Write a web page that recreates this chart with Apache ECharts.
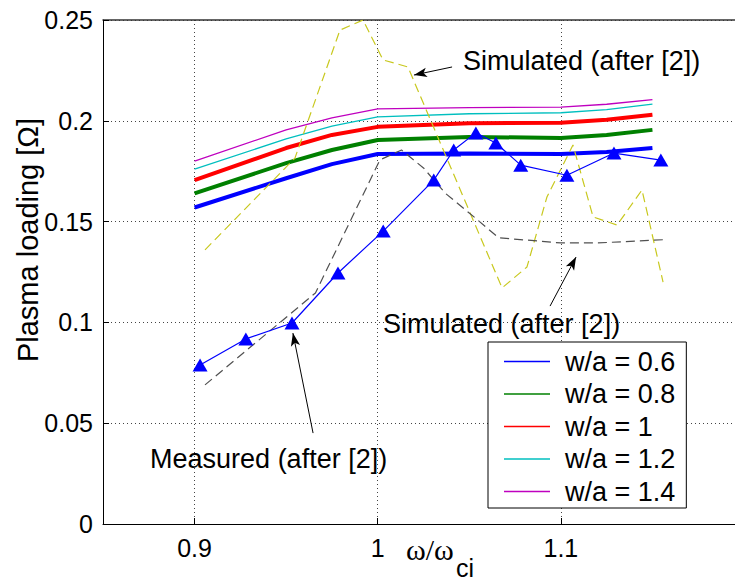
<!DOCTYPE html>
<html>
<head>
<meta charset="utf-8">
<script src="https://cdn.jsdelivr.net/npm/echarts@6/dist/echarts.min.js"></script>
<style>
html, body { margin: 0; padding: 0; background: #fff; }
#chart { width: 735px; height: 580px; }
</style>
</head>
<body>
<div id="chart"></div>
<script>
// w/a curves, all on the same frequency points
const waX = [0.9, 0.95, 0.975, 1.0, 1.05, 1.1, 1.125, 1.15];
const wa06 = [0.157, 0.1715, 0.1785, 0.1835, 0.1838, 0.1835, 0.1845, 0.1865];
const wa08 = [0.164, 0.179, 0.1855, 0.1905, 0.192, 0.1915, 0.193, 0.1955];
const wa10 = [0.1706, 0.1865, 0.193, 0.197, 0.1988, 0.199, 0.2005, 0.203];
const wa12 = [0.176, 0.191, 0.1974, 0.2019, 0.2035, 0.204, 0.2055, 0.2083];
const wa14 = [0.180, 0.1955, 0.2014, 0.2059, 0.2065, 0.2068, 0.2082, 0.2105];

// measured (triangles)
const measX = [0.903, 0.928, 0.9532, 0.9783, 1.003, 1.0306, 1.0415, 1.0536, 1.0645, 1.0781, 1.1033, 1.129, 1.1546];
const measY = [0.0789, 0.0918, 0.0997, 0.1245, 0.1453, 0.1706, 0.1855, 0.194, 0.189, 0.178, 0.173, 0.184, 0.1805];

// simulated, grey dashed
const simGX = [0.9057, 0.966, 1.0012, 1.013, 1.025, 1.037, 1.053, 1.066, 1.1, 1.12, 1.156];
const simGY = [0.069, 0.1146, 0.1806, 0.1855, 0.1766, 0.164, 0.152, 0.142, 0.1394, 0.1394, 0.141];

// simulated, yellow dashed
const simYX = [0.9057, 0.9548, 0.9794, 0.992, 1.0029, 1.0165, 1.0679, 1.0815, 1.0924, 1.1066, 1.1176, 1.1307, 1.1443, 1.1558];
const simYY = [0.136, 0.1815, 0.245, 0.25, 0.2302, 0.2267, 0.1171, 0.1275, 0.1622, 0.188, 0.1523, 0.1483, 0.1657, 0.12];

const xTicks = [0.9, 1, 1.1];
const legendNames = ['w/a = 0.6', 'w/a = 0.8', 'w/a = 1', 'w/a = 1.2', 'w/a = 1.4'];

// annotations: [text, text anchor (left, middle), arrow start, arrow tip]
const notes = [
  ['Simulated (after [2])', [1.0466, 0.2302], [1.0406, 0.2267], [1.0198, 0.2227]],
  ['Simulated (after [2])', [1.0029, 0.0997], [1.0941, 0.1081], [1.1083, 0.1324]],
  ['Measured (after [2])', [0.8757, 0.0327], [0.9647, 0.0451], [0.9537, 0.0947]]
];

const font = 'Liberation Sans, Arial, Helvetica, sans-serif';
const serif = 'Liberation Serif, Times New Roman, serif';
const zip = (xs, ys) => xs.map((x, i) => [x, ys[i]]);

const chart = echarts.init(document.getElementById('chart'), null, { renderer: 'svg' });

const waStyle = [
  ['#0000ff', 4], ['#008000', 4], ['#ff0000', 4], ['#00bfbf', 1.3], ['#bf00bf', 1.3]
];
const waData = [wa06, wa08, wa10, wa12, wa14];

const series = waData.map((ys, i) => ({
  name: legendNames[i],
  type: 'line',
  data: zip(waX, ys),
  showSymbol: false,
  symbol: 'none',
  lineStyle: { color: waStyle[i][0], width: waStyle[i][1] },
  itemStyle: { color: waStyle[i][0] },
  silent: true,
  z: 2
}));

series.push({
  name: 'simYellow',
  type: 'line',
  data: zip(simYX, simYY),
  symbol: 'none',
  lineStyle: { color: '#c8c81e', width: 1.2, type: [9, 5] },
  silent: true,
  z: 3
});
series.push({
  name: 'simGrey',
  type: 'line',
  data: zip(simGX, simGY),
  symbol: 'none',
  lineStyle: { color: '#505050', width: 1.2, type: [9, 5] },
  silent: true,
  z: 3
});
series.push({
  name: 'measured',
  type: 'line',
  data: zip(measX, measY),
  symbol: 'triangle',
  symbolSize: [15, 13],
  lineStyle: { color: '#0000ff', width: 1.2 },
  itemStyle: { color: '#0000ff' },
  silent: true,
  z: 4,
  markLine: {
    silent: true,
    symbol: ['none', 'arrow'],
    symbolSize: [7, 13],
    lineStyle: { color: '#000', width: 1, type: 'solid' },
    label: { show: false },
    data: notes.map(n => [{ coord: n[2] }, { coord: n[3] }])
  }
});

chart.setOption({
  animation: false,
  backgroundColor: '#fff',
  grid: { left: 103, top: 20, width: 641, height: 504, outerBoundsMode: 'none' },
  xAxis: [{
    type: 'value',
    min: 0.85,
    max: 1.2,
    axisLine: { show: true, onZero: false, lineStyle: { color: '#000', width: 1 } },
    axisTick: { show: true, inside: true, length: 6, customValues: xTicks, lineStyle: { color: '#000' } },
    axisLabel: {
      customValues: xTicks,
      formatter: v => String(+v.toFixed(2)),
      color: '#000', fontSize: 25, fontFamily: font, margin: 11
    },
    splitLine: { show: true, lineStyle: { color: '#444', width: 1, type: [1, 3] } }
  }, {
    type: 'value',
    position: 'top',
    min: 0.85,
    max: 1.2,
    axisLine: { show: true, onZero: false, lineStyle: { color: '#333', width: 1.5 } },
    axisTick: { show: false },
    axisLabel: { show: false },
    splitLine: { show: false }
  }],
  yAxis: {
    type: 'value',
    min: 0,
    max: 0.25,
    interval: 0.05,
    axisLine: { show: true, onZero: false, lineStyle: { color: '#000', width: 1 } },
    axisTick: { show: true, inside: true, length: 6, lineStyle: { color: '#000' } },
    axisLabel: {
      formatter: v => String(+v.toFixed(2)),
      color: '#000', fontSize: 25, fontFamily: font, margin: 10
    },
    splitLine: { show: true, lineStyle: { color: '#444', width: 1, type: [1, 3] } }
  },
  legend: {
    data: legendNames,
    orient: 'vertical',
    left: 488,
    top: 342,
    padding: [6, 11, 3, 16],
    itemGap: 5.5,
    itemWidth: 46,
    itemHeight: 1.5,
    icon: 'rect',
    backgroundColor: '#fff',
    borderColor: '#000',
    borderWidth: 1,
    selectedMode: false,
    textStyle: { color: '#000', fontSize: 27, fontFamily: font, lineHeight: 26, padding: [0, 0, 0, 10] }
  },
  series: series
});

// text annotations and axis titles, placed from data coordinates
const graphics = notes.map(n => {
  const p = chart.convertToPixel({ gridIndex: 0 }, n[1]);
  return {
    type: 'text', x: p[0], y: p[1] + 1, silent: true,
    style: { text: n[0], fill: '#000', font: '27px ' + font, verticalAlign: 'middle' }
  };
});
graphics.push({
  type: 'text', silent: true,
  x: 28, y: 240, rotation: Math.PI / 2,
  style: { text: 'Plasma loading [Ω]', fill: '#000', font: '29px ' + font, align: 'center', verticalAlign: 'middle' }
});
graphics.push({
  type: 'text', silent: true, x: 406, y: 549,
  style: { text: 'ω/ω', fill: '#000', font: '30px ' + serif, verticalAlign: 'middle' }
});
graphics.push({
  type: 'text', silent: true, x: 456, y: 580,
  style: { text: 'ci', fill: '#000', font: '25px ' + font, verticalAlign: 'bottom' }
});
chart.setOption({ graphic: graphics });
</script>
</body>
</html>
